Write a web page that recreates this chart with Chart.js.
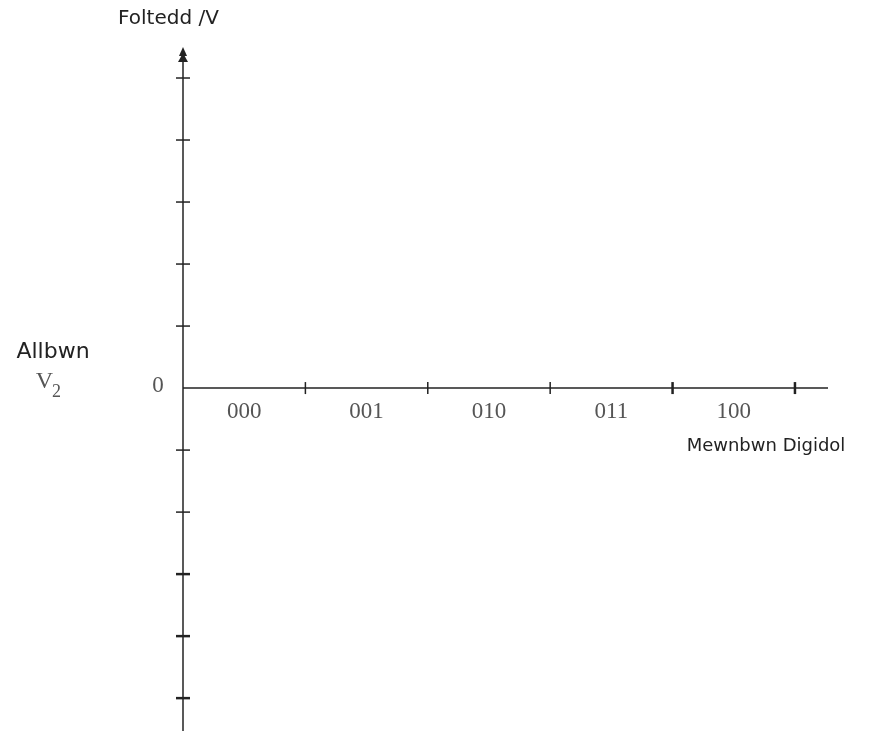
<!DOCTYPE html>
<html>
<head>
<meta charset="utf-8">
<script src="https://cdn.jsdelivr.net/npm/chart.js@4"></script>
<style>
  html, body { margin: 0; padding: 0; background: #fff; }
  #wrap { width: 870px; height: 731px; }
</style>
</head>
<body>
<div id="wrap"><canvas id="graff"></canvas></div>
<script>
// Codau digidol ar yr echelin x
const categories = ['000', '001', '010', '011', '100'];
// Marciau ar yr echelin x (ffiniau rhwng y codau)
const xTickValues = [1, 2, 3, 4, 5];
// Marciau ar yr echelin y (foltedd)
const yTickValues = [-5, -4, -3, -2, -1, 1, 2, 3, 4, 5];
const originLabel = '0';

const labelY = 'Foltedd /V';
const labelOut = 'Allbwn';
const labelX = 'Mewnbwn Digidol';

// Plugin i lunio'r echelinau drwy'r tarddbwynt
const axesPlugin = {
    id: 'axesThroughOrigin',
    afterDraw(chart) {
        const ctx = chart.ctx;
        const xs = chart.scales.x;
        const ys = chart.scales.y;
        const area = chart.chartArea;
        const x0 = xs.getPixelForValue(0);
        const y0 = ys.getPixelForValue(0);

        ctx.save();
        ctx.strokeStyle = '#222';
        ctx.fillStyle = '#222';
        ctx.lineWidth = 1.5;

        // echelin y
        ctx.beginPath();
        ctx.moveTo(x0, area.bottom);
        ctx.lineTo(x0, area.top + 8);
        ctx.stroke();
        // pen saeth
        ctx.beginPath();
        ctx.moveTo(x0, area.top);
        ctx.lineTo(x0 - 4, area.top + 9);
        ctx.lineTo(x0 + 4, area.top + 9);
        ctx.closePath();
        ctx.fill();
        ctx.beginPath();
        ctx.moveTo(x0, area.top + 6);
        ctx.lineTo(x0 - 5, area.top + 15);
        ctx.lineTo(x0 + 5, area.top + 15);
        ctx.closePath();
        ctx.fill();

        // echelin x
        ctx.beginPath();
        ctx.moveTo(x0, y0);
        ctx.lineTo(area.right, y0);
        ctx.stroke();

        // marciau x
        xTickValues.forEach(v => {
            const px = xs.getPixelForValue(v);
            ctx.lineWidth = v >= 4 ? 2.5 : 1.5;
            ctx.beginPath();
            ctx.moveTo(px, y0 - 6);
            ctx.lineTo(px, y0 + 6);
            ctx.stroke();
        });

        // marciau y
        yTickValues.forEach(v => {
            const py = ys.getPixelForValue(v);
            ctx.lineWidth = v <= -3 ? 2.5 : 1.5;
            ctx.beginPath();
            ctx.moveTo(x0 - 7, py);
            ctx.lineTo(x0 + 7, py);
            ctx.stroke();
        });

        // labeli codau
        ctx.fillStyle = '#555';
        ctx.font = '23px "Liberation Serif", "DejaVu Serif", serif';
        ctx.textAlign = 'center';
        ctx.textBaseline = 'middle';
        categories.forEach((c, i) => {
            ctx.fillText(c, xs.getPixelForValue(i + 0.5), y0 + 24);
        });
        ctx.fillText(originLabel, x0 - 25, y0 - 2);

        // teitlau'r echelinau
        ctx.fillStyle = '#222';
        ctx.font = '20px "DejaVu Sans", sans-serif';
        ctx.textAlign = 'left';
        ctx.fillText(labelY, 118, 19);
        ctx.font = '22px "DejaVu Sans", sans-serif';
        ctx.textAlign = 'center';
        ctx.fillText(labelOut, 53, 352);
        ctx.font = '18px "DejaVu Sans", sans-serif';
        ctx.fillText(labelX, 766, 446);

        // V gyda 2 isysgrif
        ctx.fillStyle = '#555';
        ctx.font = '24px "Liberation Serif", "DejaVu Serif", serif';
        ctx.textAlign = 'right';
        ctx.fillText('V', 53, 382);
        ctx.font = '18px "Liberation Serif", "DejaVu Serif", serif';
        ctx.textAlign = 'left';
        ctx.fillText('2', 52, 392);

        ctx.restore();
    }
};

const ctx = document.getElementById('graff').getContext('2d');
new Chart(ctx, {
    type: 'scatter',
    data: {
        datasets: [{ label: labelY, data: [] }]
    },
    options: {
        responsive: true,
        maintainAspectRatio: false,
        animation: false,
        layout: { padding: { left: 183, right: 42, top: 47, bottom: 0 } },
        plugins: { legend: { display: false }, tooltip: { enabled: false } },
        scales: {
            x: { type: 'linear', display: false, min: 0, max: 5.27 },
            y: { type: 'linear', display: false, min: -5.53, max: 5.5 }
        }
    },
    plugins: [axesPlugin]
});
</script>
</body>
</html>
